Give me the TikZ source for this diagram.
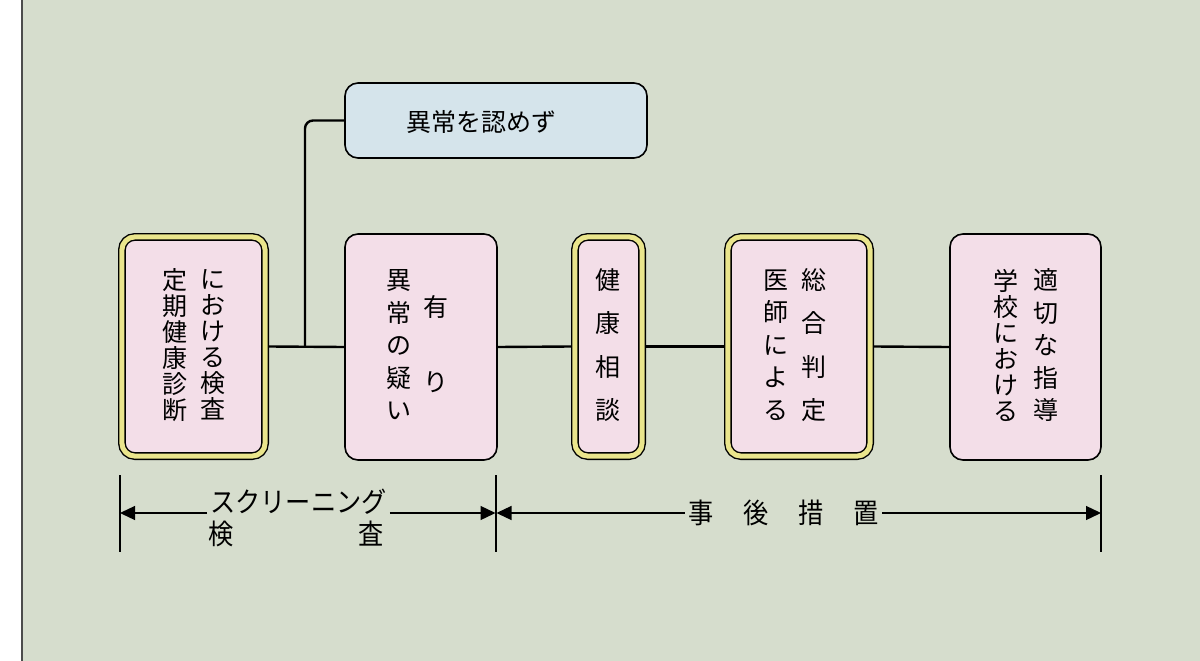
\documentclass[tikz,border=0pt]{standalone}
\usepackage{fontspec}
\newfontfamily\jp{Noto Sans CJK JP}
\newfontfamily\jpc[FakeStretch=0.9]{Noto Sans CJK JP}
\usetikzlibrary{arrows.meta}
\definecolor{bg}{RGB}{214,221,205}
\definecolor{boxpink}{RGB}{243,222,232}
\definecolor{bandyellow}{RGB}{234,229,140}
\definecolor{boxblue}{RGB}{213,228,235}
\tikzset{
  box/.style={draw=black, line width=1.6pt, rounded corners=13pt, fill=boxpink, inner sep=0pt},
  dbox/.style={box, line width=1.4pt, double=bandyellow, double distance=5pt, outer sep=3.9pt},
  col/.style={font={\jp\fontsize{25}{#1}\selectfont}, align=center, inner sep=0pt},
  conn/.style={draw=black, line width=2.4pt},
  bar/.style={draw=black, line width=1.1pt},
  arr/.style={draw=black, line width=1.3pt, -{Triangle[length=15pt,width=14pt]}},
  lab/.style={font={\jpc\fontsize{28}{30}\selectfont}, inner sep=3pt}
}
\begin{document}
\begin{tikzpicture}[x=1pt,y=-1pt]
\useasboundingbox (0,0) rectangle (1200,661);
\fill[white] (0,0) rectangle (1200,661);
\fill[bg] (22,0) rectangle (1200,661);
\draw[line width=1.2pt, black!70] (22,0) -- (22,661);

% boxes
\node[dbox, minimum width=143.2, minimum height=219.2] (b1) at (193.5,346.5) {};
\node[box, minimum width=152, minimum height=226] (b2) at (421,347) {};
\node[dbox, minimum width=67.2, minimum height=219.2] (b3) at (608.5,346.5) {};
\node[dbox, minimum width=142.2, minimum height=219.2] (b4) at (799,346.5) {};
\node[box, minimum width=151, minimum height=226] (b5) at (1025.5,347) {};
\node[box, fill=boxblue, minimum width=302, minimum height=75] (top) at (496,120.5) {};

% texts
\node[col=26] (t1a) at (213,345) {に\\お\\け\\る\\検\\査};
\node[col=26] (t1b) at (175,345) {定\\期\\健\\康\\診\\断};
\node[col=32.5] (t2a) at (399,345) {異\\常\\の\\疑\\い};
\node[col=75] (t2b) at (436,344.5) {有\\り};
\node[col=43.3] (t3) at (608,345) {健\\康\\相\\談};
\node[col=43.3] (t4a) at (814,345) {総\\合\\判\\定};
\node[col=32.5] (t4b) at (776,345) {医\\師\\に\\よ\\る};
\node[col=32.5] (t5a) at (1046,345) {適\\切\\な\\指\\導};
\node[col=26] (t5b) at (1006,345) {学\\校\\に\\お\\け\\る};
\node[col=26] (ttop) at (481,122) {異常を認めず};

% connectors
\coordinate (j) at (305,347);
\draw[conn] (b1.east) -- (b2.west);
\draw[conn, rounded corners=8pt] (j) |- (top.west);
\draw[conn] (b2.east) -- (b3.west);
\draw[conn] (b3.east) -- (b4.west);
\draw[conn] (b4.east) -- (b5.west);

% bottom spans
\coordinate (v1t) at (120,475); \coordinate (v1b) at (120,552);
\coordinate (v2t) at (496,475); \coordinate (v2b) at (496,552);
\coordinate (v3t) at (1101,475); \coordinate (v3b) at (1101,552);
\draw[bar] (v1t) -- (v1b);
\draw[bar] (v2t) -- (v2b);
\draw[bar] (v3t) -- (v3b);
\coordinate (a1) at (120,513);
\coordinate (a2l) at (495.5,513);
\coordinate (a2r) at (496.5,513);
\coordinate (a3) at (1101,513);

\node[lab] (scr) at (298.5,502) {スクリーニング};
\node[lab] (ken) at (221,534) {検};
\node[lab] (sa) at (371,534) {査};
\node[lab] (jigo) at (783.5,513) {事\hspace{30pt}後\hspace{30pt}措\hspace{30pt}置};

\draw[arr] (scr.west |- a1) -- (a1);
\draw[arr] (scr.east |- a1) -- (a2l);
\draw[arr] (jigo.west) -- (a2r);
\draw[arr] (jigo.east) -- (a3);
\end{tikzpicture}
\end{document}
